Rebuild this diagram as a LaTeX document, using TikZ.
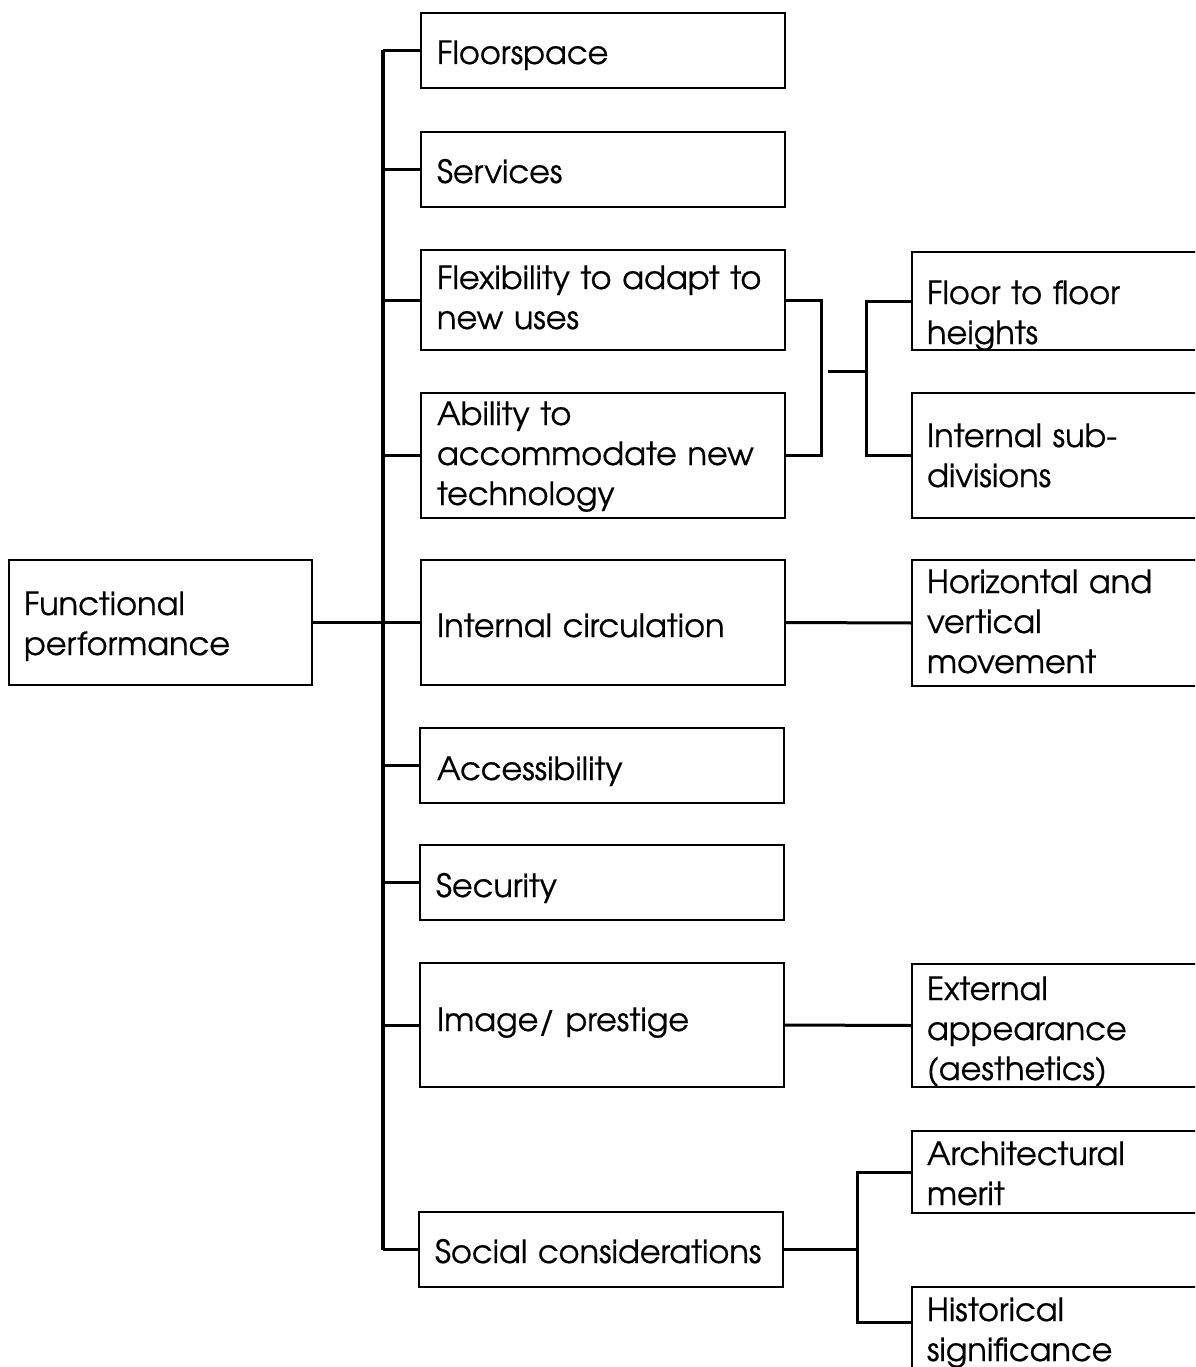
\documentclass[tikz,border=0pt]{standalone}
\usepackage{fontspec}
\setmainfont{TeX Gyre Adventor}[FakeBold=0.6]
\begin{document}
\begin{tikzpicture}[x=1pt,y=-1pt,
  box/.style={draw, line width=2.8pt, rectangle, anchor=north west,
    inner sep=0pt, outer sep=0pt},
  midbox/.style={box, minimum width=364pt},
  sidebox/.style={box, minimum width=300pt},
  rootbox/.style={box, minimum width=303pt},
  lbl/.style={anchor=base west, inner sep=0pt, outer sep=0pt, align=left,
    text width=#1, font=\fontsize{32}{40}\selectfont},
  lbl/.default=340pt,
  link/.style={line width=3pt},
  trunkline/.style={line width=4pt},
]
\useasboundingbox (0,0) rectangle (1195,1367);
\clip (0,0) rectangle (1195,1367);

% root
\node[rootbox, minimum height=125pt] (func) at (9,560) {};
\node[lbl=280pt] (func-t) at (24,615) {Functional\\performance};

% first level boxes
\node[midbox, minimum height=75pt]  (floor) at (421,13)   {};
\node[midbox, minimum height=75pt]  (serv)  at (421,132)  {};
\node[midbox, minimum height=100pt] (flex)  at (421,250)  {};
\node[midbox, minimum height=125pt] (abil)  at (421,393)  {};
\node[midbox, minimum height=125pt] (circ)  at (421,560)  {};
\node[midbox, minimum height=75pt]  (acc)   at (420,728)  {};
\node[midbox, minimum height=75pt]  (sec)   at (420,845)  {};
\node[midbox, minimum height=124pt] (img)   at (420,963)  {};
\node[midbox, minimum height=75pt]  (soc)   at (419,1212) {};

% first level labels
\node[lbl] (floor-t) at (437,64)   {Floorspace};
\node[lbl] (serv-t)  at (437,183)  {Services};
\node[lbl] (flex-t)  at (437,289)  {Flexibility to adapt to\\new uses};
\node[lbl] (abil-t)  at (437,425)  {Ability to\\accommodate new\\technology};
\node[lbl] (circ-t)  at (437,637)  {Internal circulation};
\node[lbl] (acc-t)   at (437,780)  {Accessibility};
\node[lbl] (sec-t)   at (436,897)  {Security};
\node[lbl] (img-t)   at (437,1031) {Image/ prestige};
\node[lbl] (soc-t)   at (435,1263) {Social considerations};

% second level boxes
\node[sidebox, minimum height=98pt]  (fh)   at (912,252)  {};
\node[sidebox, minimum height=125pt] (isd)  at (912,393)  {};
\node[sidebox, minimum height=126pt] (hv)   at (912,560)  {};
\node[sidebox, minimum height=123pt] (ext)  at (912,964)  {};
\node[sidebox, minimum height=82pt]  (arch) at (912,1131) {};
\node[sidebox, minimum height=130pt] (hist) at (912,1287) {};

% second level labels
\node[lbl=270pt] (fh-t)   at (927,304)  {Floor to floor\\heights};
\node[lbl=270pt] (isd-t)  at (927,447)  {Internal sub-\\divisions};
\node[lbl=270pt] (hv-t)   at (927,593)  {Horizontal and\\vertical\\movement};
\node[lbl=270pt] (ext-t)  at (927,1000) {External\\appearance\\(aesthetics)};
\node[lbl=270pt] (arch-t) at (927,1165) {Architectural\\merit};
\node[lbl=270pt] (hist-t) at (927,1321) {Historical\\significance};

% trunk
\coordinate (trunk) at (383,0);
\draw[trunkline] (floor.west -| trunk) -- (soc.west -| trunk);
\draw[link] (func.east) -- (func.east -| trunk);
\foreach \n in {floor,serv,flex,abil,circ,acc,sec,img,soc}
  \draw[link] (\n.west -| trunk) -- (\n.west);

% flexibility / technology bracket
\coordinate (jA) at (828,371);
\coordinate (jB) at (866,371);
\draw[link] (flex.east) -- ++(36,0) |- (abil.east);
\draw[link] (jA) -- (jB);
\draw[link] (fh.west) -| (jB) |- (isd.west);

% single links
\draw[link] (circ.east) -- (hv.west);
\draw[link] (img.east) -- (ext.west);

% social bracket
\coordinate (histin) at (912,1322);
\coordinate (jS) at (857,1249.5);
\draw[link] (soc.east) -- (jS);
\draw[link] (arch.west) -| (jS) |- (histin);
\end{tikzpicture}
\end{document}
